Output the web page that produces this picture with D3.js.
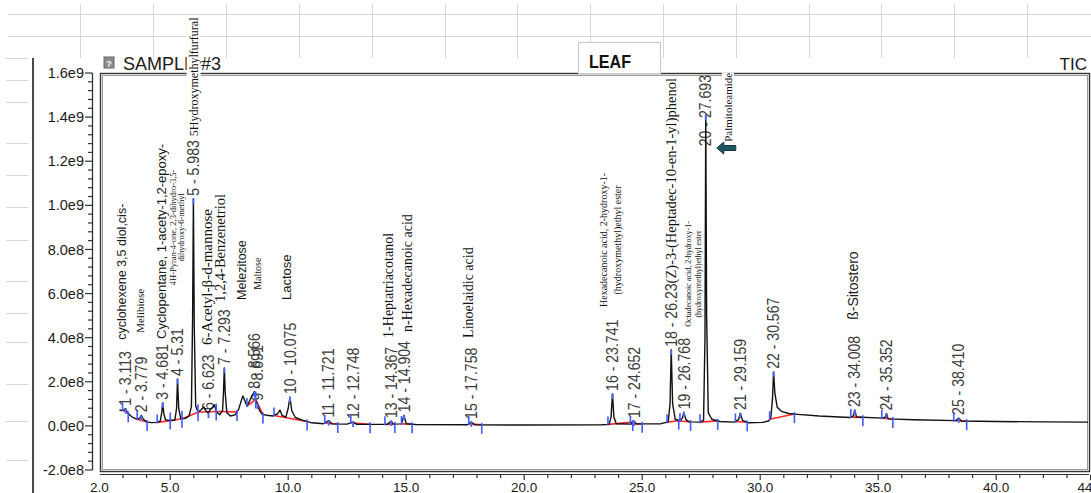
<!DOCTYPE html>
<html>
<head>
<meta charset="utf-8">
<script src="https://cdn.jsdelivr.net/npm/d3@7"></script>
<style>
  html, body { margin: 0; padding: 0; background: #fff; overflow: hidden; }
  svg { display: block; }
  .num { font-family: "Liberation Sans", Arial, sans-serif; font-size: 16px; fill: #3a3a3a; }
  .sans { font-family: "Liberation Sans", Arial, sans-serif; fill: #1a1a1a; }
  .serif { font-family: "Liberation Serif", "Times New Roman", serif; fill: #111; }
</style>
</head>
<body>
<svg id="chart" width="1091" height="493"></svg>
<script>
// ---- Integrated peaks (TIC, sample #3, leaf extract) ----
const peakNo = [1, 2, 3, 4, 5, 6, 7, 8, 9, 10, 11, 12, 13, 14, 15, 16, 17, 18, 19, 20, 21, 22, 23, 24, 25];
const peakRT = [3.113, 3.779, 4.681, 5.31, 5.983, 6.623, 7.293, 8.566, 8.691, 10.075, 11.721, 12.748,
                14.367, 14.904, 17.758, 23.741, 24.652, 26.23, 26.768, 27.693, 29.159, 30.567,
                34.008, 35.352, 38.410];
const peakRTText = ["3.113", "3.779", "4.681", "5.31", "5.983", "6.623", "7.293", "8.566", "8.691", "10.075",
                    "11.721", "12.748", "14.367", "14.904", "17.758", "23.741", "24.652", "26.23", "26.768",
                    "27.693", "29.159", "30.567", "34.008", "35.352", "38.410"];
const peakStart = [2.98, 3.60, 4.45, 5.00, 5.50, 6.18, 6.95, 8.25, 8.62, 9.40, 11.55, 12.65,
                   14.10, 14.80, 17.65, 23.55, 24.50, 26.05, 26.60, 27.45, 28.95, 30.40,
                   33.84, 35.15, 38.20];
const peakEnd = [3.22, 4.02, 5.00, 5.50, 6.18, 6.95, 7.83, 8.62, 8.93, 10.80, 12.10, 13.47,
                 14.52, 15.25, 18.20, 24.60, 25.00, 26.55, 27.05, 28.20, 29.45, 31.45,
                 34.35, 35.62, 38.75];

// ---- Total ion chromatogram trace: retention time (min) and abundance (counts) ----
const traceTime = [
  2.85, 2.95, 3.05, 3.113, 3.18, 3.30, 3.45, 3.60, 3.70, 3.779, 3.86, 4.00, 4.20, 4.45, 4.58, 4.64, 4.681,
  4.73, 4.80, 5.00, 5.20, 5.27, 5.31, 5.36, 5.45, 5.65, 5.80, 5.90, 5.95, 5.983, 6.02, 6.08, 6.18, 6.30,
  6.42, 6.50, 6.58, 6.623, 6.67, 6.78, 6.88, 6.95, 7.10, 7.22, 7.26, 7.293, 7.33, 7.40, 7.55, 7.75, 7.90,
  8.00, 8.08, 8.16, 8.25, 8.35, 8.48, 8.566, 8.62, 8.691, 8.78, 8.90, 9.10, 9.35, 9.55, 9.65, 9.74, 9.90,
  10.00, 10.075, 10.15, 10.30, 10.60, 11.00, 11.50, 11.721, 11.85, 12.50, 12.748, 12.90, 14.20, 14.367,
  14.45, 14.80, 14.904, 15.00, 15.40, 17.60, 17.758, 17.90, 20.00, 23.30, 23.60, 23.68, 23.741, 23.80,
  23.90, 24.50, 24.652, 24.75, 25.80, 26.10, 26.18, 26.23, 26.29, 26.40, 26.60, 26.70, 26.768, 26.85,
  27.00, 27.45, 27.60, 27.66, 27.693, 27.73, 27.80, 27.95, 28.30, 28.90, 29.08, 29.159, 29.25, 29.50,
  30.10, 30.35, 30.45, 30.52, 30.567, 30.62, 30.72, 30.90, 31.20, 31.60, 32.50, 33.80, 33.95, 34.008,
  34.08, 35.20, 35.30, 35.352, 35.42, 36.50, 38.30, 38.41, 38.52, 40.00, 42.00, 44.00
];
const traceSignal = [
  72e6, 70e6, 74e6, 78e6, 62e6, 48e6, 36e6, 30e6, 34e6, 48e6, 30e6, 18e6, 15e6, 16e6, 22e6, 60e6, 105e6,
  55e6, 28e6, 24e6, 27e6, 80e6, 213e6, 80e6, 32e6, 34e6, 45e6, 90e6, 500e6, 1030e6, 450e6, 90e6, 62e6, 72e6,
  86e6, 70e6, 62e6, 58e6, 70e6, 82e6, 96e6, 65e6, 50e6, 70e6, 160e6, 263e6, 150e6, 60e6, 45e6, 50e6, 75e6,
  110e6, 136e6, 115e6, 90e6, 110e6, 140e6, 155e6, 120e6, 100e6, 70e6, 52e6, 48e6, 45e6, 55e6, 72e6, 48e6, 40e6,
  80e6, 131e6, 70e6, 38e6, 26e6, 14e6, 10e6, 24e6, 9e6, 8e6, 18e6, 7e6, 7e6, 22e6,
  8e6, 9e6, 48e6, 10e6, 6e6, 5e6, 18e6, 5e6, 4e6, 5e6, 7e6, 40e6, 145e6, 40e6,
  10e6, 8e6, 22e6, 9e6, 10e6, 18e6, 100e6, 345e6, 100e6, 30e6, 22e6, 35e6, 62e6, 28e6,
  18e6, 17e6, 25e6, 400e6, 1410e6, 500e6, 60e6, 30e6, 20e6, 17e6, 28e6, 58e6, 25e6, 14e6,
  16e6, 22e6, 38e6, 120e6, 245e6, 150e6, 85e6, 66e6, 56e6, 52e6, 45e6, 38e6, 45e6, 72e6,
  40e6, 35e6, 40e6, 56e6, 32e6, 28e6, 24e6, 36e6, 22e6, 20e6, 18e6, 17e6
];

// ---- Axes ----
const yTickValues = [-2e8, 0, 2e8, 4e8, 6e8, 8e8, 1e9, 1.2e9, 1.4e9, 1.6e9];
const yTickLabels = ["-2.0e8", "0.0e0", "2.0e8", "4.0e8", "6.0e8", "8.0e8", "1.0e9", "1.2e9", "1.4e9", "1.6e9"];
const xTickValues = [2, 5, 10, 15, 20, 25, 30, 35, 40, 44];
const xTickLabels = ["2.0", "5.0", "10.0", "15.0", "20.0", "25.0", "30.0", "35.0", "40.0", "44.0"];

// ---- Compound identifications ----
const compoundNames = [
  "cyclohexene 3,5 diol,cis-", "Melibiose", "Cyclopentane, 1-acety-1,2-epoxy-",
  "4H-Pyran-4-one, 2,3-dihydro-3,5-", "dihydroxy-6-methyl", "6-Acetyl-\u03B2-d-mannose",
  "1,2,4-Benzenetriol", "Melezitose", "Maltose", "Lactose", "1-Heptatriacotanol",
  "n-Hexadecanoic acid", "Linoelaidic acid", "Hexadecanoic acid, 2-hydroxy-1-",
  "(hydroxymethyl)ethyl ester", "Octadecanoic acid, 2-hydroxy-1-", "(hydroxymethyl)ethyl ester",
  "Palmitoleamide", "\u00DF-Sitostero"
];
const peak5Name = "5Hydroxymethylfurfural";
const peak18Name = "(Z)-3-(Heptadec-10-en-1-yl)phenol";

// ================= drawing =================
const W = 1091, H = 493;
const svg = d3.select("#chart");
svg.append("rect").attr("width", W).attr("height", H).attr("fill", "#fff");

const plot = { left: 100, right: 1089, top: 73, bottom: 471 };
const x = d3.scaleLinear().domain([2, 44]).range([99.4, 1090.6]);
const y = d3.scaleLinear().domain([-2e8, 1.6e9]).range([470, 73]);
const NUM_SQUEEZE = 0.88;   // narrow the run of the peak labels

// spreadsheet cells behind the pasted chart
const sheet = svg.append("g").attr("stroke", "#d6d6d6").attr("stroke-width", 1);
[14.5, 36.5].forEach(yy => sheet.append("line").attr("x1", 8).attr("x2", W).attr("y1", yy).attr("y2", yy));
[80, 153, 226, 299, 372, 445, 517, 590, 663, 736, 809, 881, 954, 1027].forEach(xx =>
  sheet.append("line").attr("x1", xx + 0.5).attr("x2", xx + 0.5).attr("y1", 4).attr("y2", 58));
[58, 80, 102, 143, 175, 207, 240, 281, 313, 342, 384, 421, 460].forEach(yy =>
  sheet.append("line").attr("x1", 6).attr("x2", 28).attr("y1", yy + 0.5).attr("y2", yy + 0.5));

// picture edge
svg.append("line").attr("x1", 33).attr("x2", 33).attr("y1", 58).attr("y2", H)
  .attr("stroke", "#4a4a4a").attr("stroke-width", 2);

// header
svg.append("rect").attr("x", 104).attr("y", 57).attr("width", 10).attr("height", 11)
  .attr("fill", "#8c8c8c").attr("stroke", "#666");
svg.append("text").attr("x", 109).attr("y", 66.5).attr("text-anchor", "middle")
  .attr("font-family", "Liberation Sans, Arial").attr("font-size", 9).attr("font-weight", "bold")
  .attr("fill", "#fff").text("?");
svg.append("text").attr("x", 123).attr("y", 70).attr("class", "sans")
  .attr("font-size", 18).attr("fill", "#333").text("SAMPLE #3");
svg.append("text").attr("x", 1087).attr("y", 70).attr("class", "sans").attr("text-anchor", "end")
  .attr("font-size", 17).attr("fill", "#333").text("TIC");

// y axis
const yAx = svg.append("g").attr("stroke", "#333");
yAx.append("line").attr("x1", 92.5).attr("x2", 92.5).attr("y1", y(1.6e9)).attr("y2", y(-2e8)).attr("stroke-width", 1.3);
d3.range(-2e8, 1.6e9 + 1, 4e7).forEach(v => {
  const major = yTickValues.some(t => Math.abs(t - v) < 1);
  yAx.append("line").attr("x1", major ? 85 : 88).attr("x2", 92.5)
    .attr("y1", y(v)).attr("y2", y(v)).attr("stroke-width", 1.2);
});
yTickValues.forEach((v, i) => {
  svg.append("text").attr("class", "sans").attr("x", 84).attr("y", y(v)).attr("dy", "0.35em")
    .attr("text-anchor", "end").attr("font-size", 14.5).attr("fill", "#333").text(yTickLabels[i]);
});

// x axis
const xAx = svg.append("g").attr("stroke", "#333");
xAx.append("line").attr("x1", plot.left).attr("x2", plot.right).attr("y1", 474.5).attr("y2", 474.5).attr("stroke-width", 1.2);
d3.range(3, 45, 1).forEach(t => {
  const major = xTickValues.includes(t);
  xAx.append("line").attr("x1", x(t)).attr("x2", x(t)).attr("y1", 474.5).attr("y2", major ? 480 : 478)
    .attr("stroke-width", 1.2);
});
xTickValues.forEach((t, i) => {
  svg.append("text").attr("class", "sans").attr("x", x(t)).attr("y", 491.5).attr("text-anchor", "middle")
    .attr("font-size", 13.5).attr("fill", "#333").text(xTickLabels[i]);
});

// plot frame (double rule)
svg.append("rect").attr("x", plot.left + 0.5).attr("y", plot.top + 0.5)
  .attr("width", plot.right - plot.left).attr("height", plot.bottom - plot.top)
  .attr("fill", "none").attr("stroke", "#333").attr("stroke-width", 1.4);
svg.append("rect").attr("x", plot.left + 2.5).attr("y", plot.top + 2.5)
  .attr("width", plot.right - plot.left - 4).attr("height", plot.bottom - plot.top - 4)
  .attr("fill", "none").attr("stroke", "#9a9a9a").attr("stroke-width", 1);

// LEAF tag
svg.append("rect").attr("x", 578.5).attr("y", 42.5).attr("width", 82).attr("height", 31)
  .attr("fill", "#fff").attr("stroke", "#c8c8c8");
svg.append("text").attr("x", 589).attr("y", 68).attr("font-family", "Liberation Sans, Arial")
  .attr("font-weight", "bold").attr("font-size", 19).attr("fill", "#111")
  .attr("textLength", 42).attr("lengthAdjust", "spacingAndGlyphs").text("LEAF");

// ---- chromatogram ----
const trace = traceTime.map((t, i) => [t, traceSignal[i]]);
const signalAt = t => {
  const i = d3.bisector(d => d[0]).left(trace, t);
  if (i <= 0) return trace[0][1];
  if (i >= trace.length) return trace[trace.length - 1][1];
  const a = trace[i - 1], b = trace[i];
  return a[1] + (b[1] - a[1]) * (t - a[0]) / (b[0] - a[0]);
};

svg.append("defs").append("clipPath").attr("id", "plotClip")
  .append("rect").attr("x", plot.left + 2).attr("y", plot.top + 2)
  .attr("width", plot.right - plot.left - 3).attr("height", plot.bottom - plot.top - 3);

const labelLayer = svg.append("g");
const markLayer = svg.append("g").attr("clip-path", "url(#plotClip)");

// white box behind a rotated text so it masks rules underneath
function maskBehind(textSel, tf) {
  const bb = textSel.node().getBBox();
  labelLayer.insert("rect", "text").attr("x", bb.x).attr("y", bb.y)
    .attr("width", bb.width).attr("height", bb.height)
    .attr("transform", tf).attr("fill", "#fff");
}

// compound name annotations: [name index, anchor time, anchor abundance, family, size, anchor]
const nameLayout = [
  [0, 2.96, 390e6, "sans", 12.5, "start"],
  [1, 3.72, 422e6, "serif", 11, "start"],
  [2, 4.61, 394e6, "sans", 13, "start"],
  [3, 5.12, 900e6, "serif", 8.5, "middle"],
  [4, 5.46, 900e6, "serif", 8.5, "middle"],
  [5, 6.56, 367e6, "serif", 15, "start"],
  [6, 7.12, 562e6, "serif", 14.5, "start"],
  [7, 8.04, 571e6, "sans", 12.5, "start"],
  [8, 8.68, 617e6, "serif", 10, "start"],
  [9, 9.91, 571e6, "sans", 13, "start"],
  [10, 14.23, 399e6, "serif", 14, "start"],
  [11, 15.03, 426e6, "serif", 14, "start"],
  [12, 17.62, 399e6, "serif", 14, "start"],
  [13, 23.34, 843e6, "serif", 10, "middle"],
  [14, 23.97, 843e6, "serif", 10, "middle"],
  [15, 26.94, 689e6, "serif", 8, "middle"],
  [16, 27.36, 689e6, "serif", 8, "middle"],
  [17, 28.64, 1288e6, "serif", 11, "start"],
  [18, 33.93, 481e6, "sans", 14, "start"]
];
nameLayout.forEach(([k, t, v, fam, size, anchor]) => {
  const tf = `translate(${x(t)},${y(v)}) rotate(-90)`;
  const tx = labelLayer.append("text").attr("class", fam).attr("font-size", size)
    .attr("text-anchor", anchor).attr("dy", "0.35em")
    .attr("transform", tf).text(compoundNames[k]);
  maskBehind(tx, tf);
});

// red integration baselines
peakNo.forEach((n, i) => {
  const s = peakStart[i], e = peakEnd[i];
  markLayer.append("line").attr("x1", x(s)).attr("y1", y(signalAt(s))).attr("x2", x(e)).attr("y2", y(signalAt(e)))
    .attr("stroke", "#ff2a2a").attr("stroke-width", 1.6);
});

markLayer.append("path").datum(trace)
  .attr("fill", "none").attr("stroke", "#111").attr("stroke-width", 1.4).attr("stroke-linejoin", "round")
  .attr("d", d3.line().x(d => x(d[0])).y(d => y(d[1])));

// blue start / apex / end markers
peakNo.forEach((n, i) => {
  const s = peakStart[i], e = peakEnd[i], rt = peakRT[i];
  const ys = y(signalAt(s)), ye = y(signalAt(e)), ya = y(signalAt(rt));
  markLayer.append("line").attr("x1", x(s)).attr("x2", x(s)).attr("y1", ys + 1).attr("y2", ys - 8)
    .attr("stroke", "#3f5cff").attr("stroke-width", 1.6);
  markLayer.append("line").attr("x1", x(e)).attr("x2", x(e)).attr("y1", ye - 2).attr("y2", ye + 9)
    .attr("stroke", "#3f5cff").attr("stroke-width", 1.6);
  markLayer.append("line").attr("x1", x(rt)).attr("x2", x(rt)).attr("y1", ya).attr("y2", ya + 5)
    .attr("stroke", "#4f6bff").attr("stroke-width", 2);
});

// peak number / retention time labels
peakNo.forEach((n, i) => {
  const rt = peakRT[i];
  const px = x(rt), pyTop = y(signalAt(rt));
  const tx = labelLayer.append("text").attr("class", "num").attr("dy", "0.35em")
    .text(`${n} - ${peakRTText[i]}`);
  const len = tx.node().getComputedTextLength() * NUM_SQUEEZE;
  let base = pyTop - 3;
  if (base - len < plot.top + 2) base = plot.top + 2 + len;
  tx.attr("transform", `translate(${px},${base}) rotate(-90) scale(${NUM_SQUEEZE},1)`);
  if (n === 5 || n === 18) {
    const nameBase = base - len - (n === 5 ? 4 : 0);
    const tf = `translate(${px},${nameBase}) rotate(-90)`;
    const nm = labelLayer.append("text").attr("class", "serif").attr("dy", "0.35em")
      .attr("font-size", n === 5 ? 12 : 14.5).attr("transform", tf)
      .text(n === 5 ? peak5Name : peak18Name);
    maskBehind(nm, tf);
  }
});

// arrow pointing at the palmitoleamide peak
const ax = x(27.693) + 11, ay = 148;
labelLayer.append("path")
  .attr("d", `M${ax},${ay} l7,-6 v3.5 h12 v5 h-12 v3.5 z`)
  .attr("fill", "#1f5563").attr("stroke", "#123844").attr("stroke-width", 1);
</script>
</body>
</html>
